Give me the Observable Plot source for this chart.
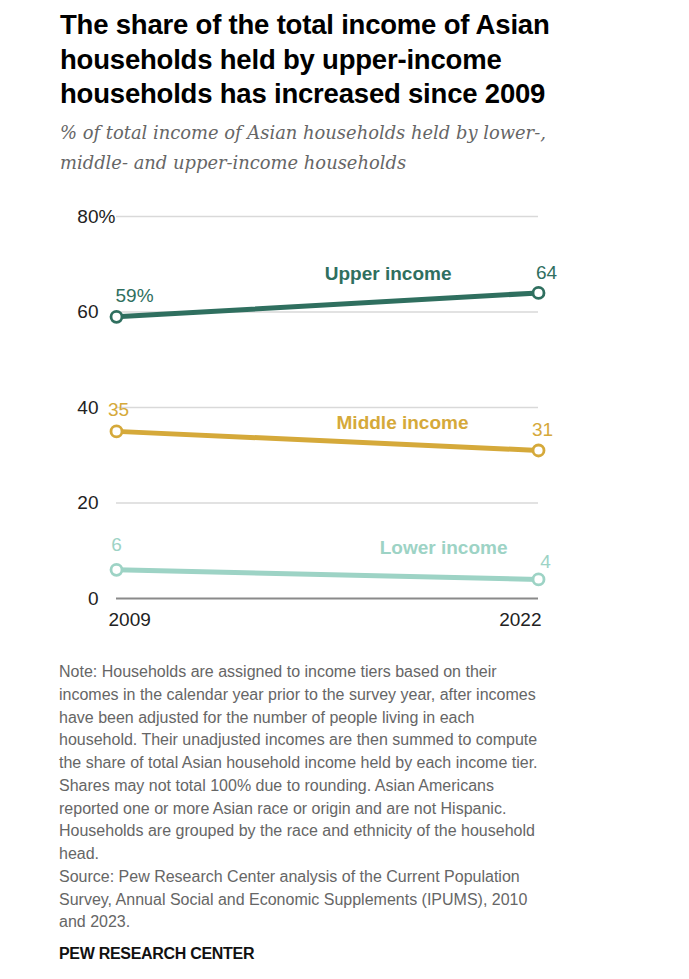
<!DOCTYPE html>
<html>
<head>
<meta charset="utf-8">
<script src="https://cdn.jsdelivr.net/npm/d3@7"></script>
<script src="https://cdn.jsdelivr.net/npm/@observablehq/plot@0.6"></script>
<style>
  html, body { margin: 0; padding: 0; background: #fff; }
  body { width: 689px; height: 979px; position: relative; font-family: "Liberation Sans", Arial, sans-serif; }
  #title { position: absolute; left: 60px; top: 8px; width: 600px; font-weight: bold; font-size: 27.5px; line-height: 34.5px; color: #000; letter-spacing: -0.2px; }
  #subtitle { position: absolute; left: 60px; top: 118px; width: 620px; font-family: "DejaVu Serif", Georgia, serif; font-style: italic; font-size: 17.9px; line-height: 30px; color: #666; white-space: nowrap; }
  #chart { position: absolute; left: 0; top: 195px; }
  #note { position: absolute; left: 59px; top: 661px; width: 620px; font-size: 16px; line-height: 22.75px; color: #666; white-space: nowrap; }
  #brand { position: absolute; left: 59px; top: 945px; font-size: 16px; font-weight: bold; color: #111; letter-spacing: -0.3px; }
</style>
</head>
<body>
<div id="title">The share of the total income of Asian households held by upper-income households has increased since 2009</div>
<div id="subtitle">% of total income of Asian households held by lower-,<br>middle- and upper-income households</div>
<div id="chart"></div>
<div id="note">Note: Households are assigned to income tiers based on their<br>incomes in the calendar year prior to the survey year, after incomes<br>have been adjusted for the number of people living in each<br>household. Their unadjusted incomes are then summed to compute<br>the share of total Asian household income held by each income tier.<br>Shares may not total 100% due to rounding. Asian Americans<br>reported one or more Asian race or origin and are not Hispanic.<br>Households are grouped by the race and ethnicity of the household<br>head.<br>Source: Pew Research Center analysis of the Current Population<br>Survey, Annual Social and Economic Supplements (IPUMS), 2010<br>and 2023.</div>
<div id="brand">PEW RESEARCH CENTER</div>
<script>
// ---- Data ----
const years = [2009, 2022];
const tiers = ["Upper income", "Middle income", "Lower income"];
const upper = [59, 64];
const middle = [35, 31];
const lower = [6, 4];
const yTicks = [0, 20, 40, 60, 80];
const tierColors = ["#2f6f5f", "#d5a93a", "#9dd3c5"];

const series = [upper, middle, lower];
const rows = [];
tiers.forEach((t, i) => years.forEach((yr, j) => rows.push({tier: t, year: yr, value: series[i][j]})));
const byTier = t => rows.filter(d => d.tier === t);
const first = t => rows.filter(d => d.tier === t && d.year === years[0]);
const last = t => rows.filter(d => d.tier === t && d.year === years[years.length - 1]);

const fs = 19;
const font = "Liberation Sans, Arial, sans-serif";

const labelCfg = [
  {t: tiers[0], fmt0: v => v + "%", a0: "start", dx0: -1, dy0: -21, dx1: 8, dy1: -20, ndx: -87, ndy: -19},
  {t: tiers[1], fmt0: v => String(v), a0: "middle", dx0: 2, dy0: -21, dx1: 4, dy1: -21, ndx: -70, ndy: -28},
  {t: tiers[2], fmt0: v => String(v), a0: "middle", dx0: 0, dy0: -25, dx1: 7, dy1: -17, ndx: -31, ndy: -31}
];

const marks = [
  Plot.ruleY(yTicks.filter(d => d !== 0), {stroke: "#d9d9d9", strokeWidth: 1.3}),
  Plot.ruleY([0], {stroke: "#8a8a8a", strokeWidth: 1.8}),
  Plot.axisY({ticks: yTicks, tickSize: 0, tickPadding: 0, dx: -18, tickFormat: d => String(d), fontSize: fs, fill: "#222", label: null, textAnchor: "end"}),
  Plot.text([yTicks[yTicks.length - 1]], {x: years[0], y: d => d, text: d => "%", textAnchor: "start", dx: -18, fontSize: fs, fill: "#222"}),
  Plot.text([years[0]], {x: d => d, y: 0, text: d => String(d), textAnchor: "start", dx: -8, dy: 21, fontSize: fs, fill: "#222"}),
  Plot.text([years[1]], {x: d => d, y: 0, text: d => String(d), textAnchor: "end", dx: 3, dy: 21, fontSize: fs, fill: "#222"})
];

tiers.forEach((t, i) => {
  const c = tierColors[i];
  const cfg = labelCfg[i];
  marks.push(Plot.line(byTier(t), {x: "year", y: "value", stroke: c, strokeWidth: 5}));
  marks.push(Plot.dot(byTier(t), {x: "year", y: "value", r: 5.5, fill: "#fff", stroke: c, strokeWidth: 2.8}));
  marks.push(Plot.text(first(t), {x: "year", y: "value", text: d => cfg.fmt0(d.value), textAnchor: cfg.a0, dx: cfg.dx0, dy: cfg.dy0, fill: c, fontSize: fs}));
  marks.push(Plot.text(last(t), {x: "year", y: "value", text: d => String(d.value), textAnchor: "middle", dx: cfg.dx1, dy: cfg.dy1, fill: c, fontSize: fs}));
  marks.push(Plot.text(last(t), {x: "year", y: "value", text: d => d.tier, textAnchor: "end", dx: cfg.ndx, dy: cfg.ndy, fill: c, fontSize: fs, fontWeight: "bold"}));
});

const chart = Plot.plot({
  width: 689,
  height: 440,
  marginTop: 21,
  marginBottom: 37,
  marginLeft: 116,
  marginRight: 151,
  style: {fontFamily: font, fontSize: fs + "px", background: "#fff", overflow: "visible"},
  x: {domain: [years[0], years[years.length - 1]], axis: null},
  y: {domain: [0, 80], axis: null},
  marks
});
document.getElementById("chart").appendChild(chart);
</script>
</body>
</html>
